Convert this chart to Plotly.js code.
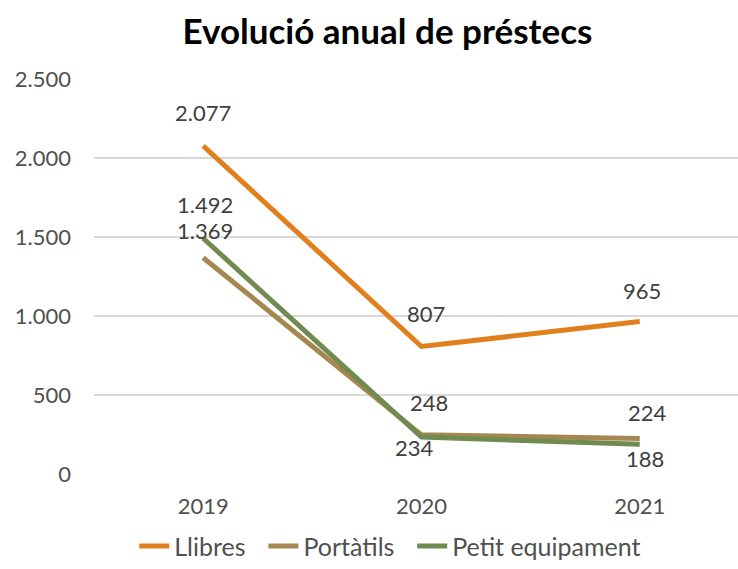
<!DOCTYPE html>
<html><head><meta charset="utf-8">
<script src="https://cdn.plot.ly/plotly-3.0.1.min.js"></script>
<style>html,body{margin:0;padding:0;background:#fff}#chart{width:738px;height:569px}</style>
</head><body><div id="chart"></div>
<script>
const years = ['2019', '2020', '2021'];
const llibres = [2077, 807, 965];
const portatils = [1369, 248, 224];
const petitEquipament = [1492, 234, 188];
const seriesNames = ['Llibres', 'Portàtils', 'Petit equipament'];
const yTicks = [0, 500, 1000, 1500, 2000, 2500];
const yTickLabels = ['0', '500', '1.000', '1.500', '2.000', '2.500'];

const colors = ['#E07F1B', '#A58851', '#6F8B50'];
const FONT = 'Lato, "Open Sans", sans-serif';
const fmt = v => v >= 1000 ? Math.floor(v/1000) + '.' + String(v%1000).padStart(3,'0') : String(v);

const seriesVals = [llibres, portatils, petitEquipament];
// label offsets (px) per series per point
const shifts = [
  [[0,33],[5,33],[2,31]],
  [[2,27],[8,32],[8,26]],
  [[2,34],[-7,-10],[5,-14]]
];

const traces = seriesVals.map((vals, i) => ({
  x: years, y: vals, name: seriesNames[i] + (i < 2 ? '\u00a0\u00a0' : ''), type: 'scatter', mode: 'lines',
  line: {color: colors[i], width: 5}, hoverinfo: 'skip'
}));

const annotations = [];
seriesVals.forEach((vals, i) => {
  vals.forEach((v, j) => {
    annotations.push({
      x: years.indexOf(years[j]), y: v, xref: 'x', yref: 'y', text: fmt(v), showarrow: false,
      xshift: shifts[i][j][0], yshift: shifts[i][j][1],
      font: {family: FONT, size: 22, color: '#404040'}
    });
  });
});

const layout = {
  width: 738, height: 569,
  margin: {l: 94, r: 0, t: 79, b: 95, autoexpand: false},
  paper_bgcolor: '#fff', plot_bgcolor: '#fff',
  title: {text: '<b>Evolució anual de préstecs</b>', x: 0.525, xanchor: 'center', y: 0.945, yanchor: 'middle',
          font: {family: FONT, size: 35, color: '#000'}},
  xaxis: {type: 'category', range: [-0.5, 2.45], showgrid: false, zeroline: false,
          showline: false, ticks: '', ticklabelstandoff: 17,
          tickfont: {family: FONT, size: 22, color: '#505050'}},
  yaxis: {range: [0, 2500], tickvals: yTicks, ticktext: yTickLabels, showgrid: true,
          gridcolor: '#D9D9D9', gridwidth: 1.5, zeroline: false, showline: false, ticks: '',
          ticklabelstandoff: 22,
          tickfont: {family: FONT, size: 22, color: '#505050'}},
  showlegend: true,
  legend: {orientation: 'h', x: 0.46, xanchor: 'center', xref: 'paper', yref: 'container', y: 0.04, yanchor: 'middle',
           font: {family: FONT, size: 25, color: '#505050'}, traceorder: 'normal'},
  annotations: annotations
};
Plotly.newPlot('chart', traces, layout, {displayModeBar: false, staticPlot: true});
</script></body></html>
